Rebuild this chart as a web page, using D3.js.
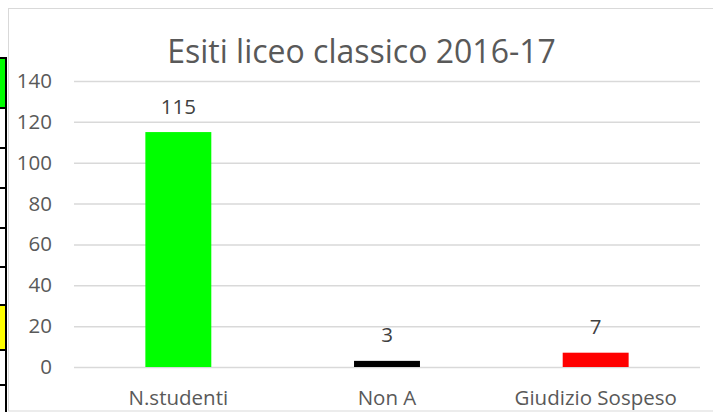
<!DOCTYPE html>
<html>
<head>
<meta charset="utf-8">
<script src="https://cdn.jsdelivr.net/npm/d3@7"></script>
<style>
  body { margin: 0; background: #ffffff; }
  svg { display: block; font-family: "Open Sans", sans-serif; }
</style>
</head>
<body>
<svg id="chart" width="713" height="412"></svg>
<script>
// ----------- DATA ------------
const categories = ["N.studenti", "Non A", "Giudizio Sospeso"];
const values = [115, 3, 7];
const barColors = ["#00ff00", "#000000", "#ff0000"];
const yTicks = [0, 20, 40, 60, 80, 100, 120, 140];
const title = "Esiti liceo classico 2016-17";

// spreadsheet cells peeking in at the left edge (row boundaries + fill)
const cellRows = [58, 108, 148, 188, 228, 267, 305, 350, 385];
const cellFills = ["#00ff00", null, null, null, null, null, "#ffff00", null];

// ----------- LAYOUT ------------
const W = 713, H = 412;
const plot = { left: 74, right: 700, top: 81, bottom: 367 };

const svg = d3.select("#chart");

// spreadsheet background strip
svg.selectAll(".cell")
    .data(cellFills)
    .join("rect")
    .attr("x", 0)
    .attr("y", (d, i) => cellRows[i])
    .attr("width", 6)
    .attr("height", (d, i) => cellRows[i + 1] - cellRows[i])
    .attr("fill", d => d || "#ffffff");
svg.selectAll(".cell-line")
    .data(cellRows)
    .join("rect")
    .attr("x", 0)
    .attr("y", d => d - 1)
    .attr("width", 7)
    .attr("height", 2)
    .attr("fill", "#000000");
svg.append("rect")
    .attr("x", 5).attr("y", cellRows[0] - 1)
    .attr("width", 2).attr("height", H - cellRows[0] + 1)
    .attr("fill", "#000000");

// chart area frame
svg.append("rect")
    .attr("x", 8.5).attr("y", 8.5)
    .attr("width", W + 10).attr("height", H - 9.5)
    .attr("fill", "#ffffff")
    .attr("stroke", "#d9d9d9")
    .attr("stroke-width", 1);

// ----------- SCALES ------------
const x = d3.scaleBand()
    .domain(categories)
    .range([plot.left, plot.right]);

const y = d3.scaleLinear()
    .domain([0, 140])
    .range([plot.bottom, plot.top]);

const barWidth = x.bandwidth() * 0.316;

// ----------- GRIDLINES + Y AXIS ------------
const yAxis = d3.axisLeft(y)
    .tickValues(yTicks)
    .tickSize(-(plot.right - plot.left))
    .tickPadding(22);

const gy = svg.append("g")
    .attr("transform", `translate(${plot.left},0)`)
    .call(yAxis);
gy.select(".domain").remove();
gy.selectAll(".tick line")
    .attr("stroke", "#d9d9d9")
    .attr("stroke-width", 1.5);
gy.selectAll(".tick text")
    .attr("fill", "#595959")
    .attr("font-size", "20.5px")
    .attr("font-family", "'Open Sans', sans-serif");

// ----------- BARS ------------
svg.selectAll(".bar")
    .data(values)
    .join("rect")
    .attr("class", "bar")
    .attr("x", (d, i) => x(categories[i]) + (x.bandwidth() - barWidth) / 2)
    .attr("y", d => y(d))
    .attr("width", barWidth)
    .attr("height", d => y(0) - y(d))
    .attr("fill", (d, i) => barColors[i]);

// value labels
svg.selectAll(".value-label")
    .data(values)
    .join("text")
    .attr("class", "value-label")
    .attr("x", (d, i) => x(categories[i]) + x.bandwidth() / 2)
    .attr("y", d => y(d) - 18.5)
    .attr("text-anchor", "middle")
    .attr("font-size", "20.5px")
    .attr("fill", "#404040")
    .text(d => d);

// ----------- X AXIS ------------
const xAxis = d3.axisBottom(x).tickSize(0).tickPadding(0);
const gx = svg.append("g")
    .attr("transform", `translate(0,${plot.bottom})`)
    .call(xAxis);
gx.select(".domain").remove();
gx.selectAll(".tick text")
    .attr("y", 38)
    .attr("dy", 0)
    .attr("fill", "#595959")
    .attr("font-size", "20.5px")
    .attr("font-family", "'Open Sans', sans-serif");

// ----------- TITLE ------------
svg.append("text")
    .attr("x", 361.5)
    .attr("y", 63)
    .attr("text-anchor", "middle")
    .attr("font-size", "32px")
    .attr("fill", "#595959")
    .text(title);
</script>
</body>
</html>
